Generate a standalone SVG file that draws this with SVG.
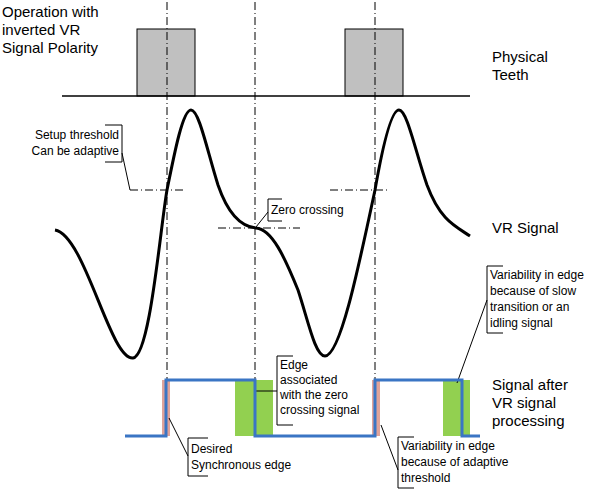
<svg xmlns="http://www.w3.org/2000/svg" width="603" height="492" viewBox="0 0 603 492">
<style>
text{font-family:"Liberation Sans",Arial,sans-serif;fill:#000}
.big{font-size:15px}
.sm{font-size:12px}
.dd{stroke:#000;stroke-width:1;stroke-dasharray:8,3,1,3;fill:none}
.ln{stroke:#000;stroke-width:1;fill:none}
.br{stroke:#000;stroke-width:1;fill:none}
</style>
<rect width="603" height="492" fill="#fff"/>
<g id="teeth">
<rect x="137" y="29" width="58" height="67" fill="#c0c0c0" stroke="#000"/>
<rect x="345" y="29" width="58" height="67" fill="#c0c0c0" stroke="#000"/>
<line x1="62" y1="96" x2="470" y2="96" stroke="#000" stroke-width="1.5"/>
</g>
<g id="bars">
<rect x="162" y="380" width="8" height="56" fill="#e0a39a"/>
<rect x="372" y="380" width="8" height="56" fill="#e0a39a"/>
<rect x="235" y="380" width="38" height="56" fill="#92d050"/>
<rect x="443" y="380" width="27" height="56" fill="#92d050"/>
</g>
<g id="connectors">
<line class="dd" x1="167" y1="2" x2="167" y2="380"/>
<line class="dd" x1="255" y1="2" x2="255" y2="380"/>
<line class="dd" x1="375" y1="2" x2="375" y2="380"/>
<line class="dd" x1="130" y1="190" x2="185" y2="190"/>
<line class="dd" x1="330" y1="190" x2="388" y2="190"/>
<line class="dd" x1="218" y1="228" x2="300" y2="228"/>
<path class="ln" d="M122,153 L130,190"/>
<path class="ln" d="M256,227 L268,212"/>
<path class="ln" d="M255,391 L277,391"/>
<path class="ln" d="M169,418 L188,456"/>
<path class="ln" d="M381,425 L398,470"/>
<path class="ln" d="M487,300 L457,383"/>
</g>
<g id="vr">
<path d="M55,230 C85,235 110,360 133,358 C150,356 160,230 167,190 C175,150 183,110 191,110 C199,110 207,150 218,185 C230,220 245,227 256,228 C272,229 285,258 298,290 C308,320 315,356 325,356 C340,356 358,270 375,190 C382,150 391,110 399,110 C407,110 415,150 427,185 C440,220 455,226 470,236" fill="none" stroke="#000" stroke-width="3"/>
</g>
<g id="digital">
<path d="M125,436 H166 V380 H255 V436 H375 V380 H462 V436 H480" fill="none" stroke="#3a75c4" stroke-width="3"/>
</g>
<g id="labels">
<text class="big" x="2" y="17">Operation with</text>
<text class="big" x="2" y="35">inverted VR</text>
<text class="big" x="2" y="53">Signal Polarity</text>
<text class="big" x="492" y="62">Physical</text>
<text class="big" x="492" y="80">Teeth</text>
<text class="big" x="492" y="233">VR Signal</text>
<text class="big" x="492" y="390">Signal after</text>
<text class="big" x="492" y="408">VR signal</text>
<text class="big" x="492" y="426">processing</text>
</g>
<g id="ann-setup">
<path class="br" d="M105,125 H122 V162 H105"/>
<text class="sm" x="119" y="139" text-anchor="end">Setup threshold</text>
<text class="sm" x="119" y="155" text-anchor="end">Can be adaptive</text>
</g>
<g id="ann-zero">
<path class="br" d="M282,199 H268 V221 H282"/>
<text class="sm" x="271" y="214">Zero crossing</text>
</g>
<g id="ann-edge">
<path class="br" d="M293,356 H277 V425 H293"/>
<text class="sm" x="280" y="369">Edge</text>
<text class="sm" x="280" y="384">associated</text>
<text class="sm" x="280" y="399">with the zero</text>
<text class="sm" x="280" y="414">crossing signal</text>
</g>
<g id="ann-desired">
<path class="br" d="M208,438 H188 V476 H208"/>
<text class="sm" x="191" y="453">Desired</text>
<text class="sm" x="191" y="469">Synchronous edge</text>
</g>
<g id="ann-adaptive">
<path class="br" d="M414,437 H398 V488 H414"/>
<text class="sm" x="401" y="450">Variability in edge</text>
<text class="sm" x="401" y="466">because of adaptive</text>
<text class="sm" x="401" y="482">threshold</text>
</g>
<g id="ann-slow">
<path class="br" d="M503,266 H487 V333 H503"/>
<text class="sm" x="490" y="279">Variability in edge</text>
<text class="sm" x="490" y="295">because of slow</text>
<text class="sm" x="490" y="311">transition or an</text>
<text class="sm" x="490" y="327">idling signal</text>
</g>
</svg>
